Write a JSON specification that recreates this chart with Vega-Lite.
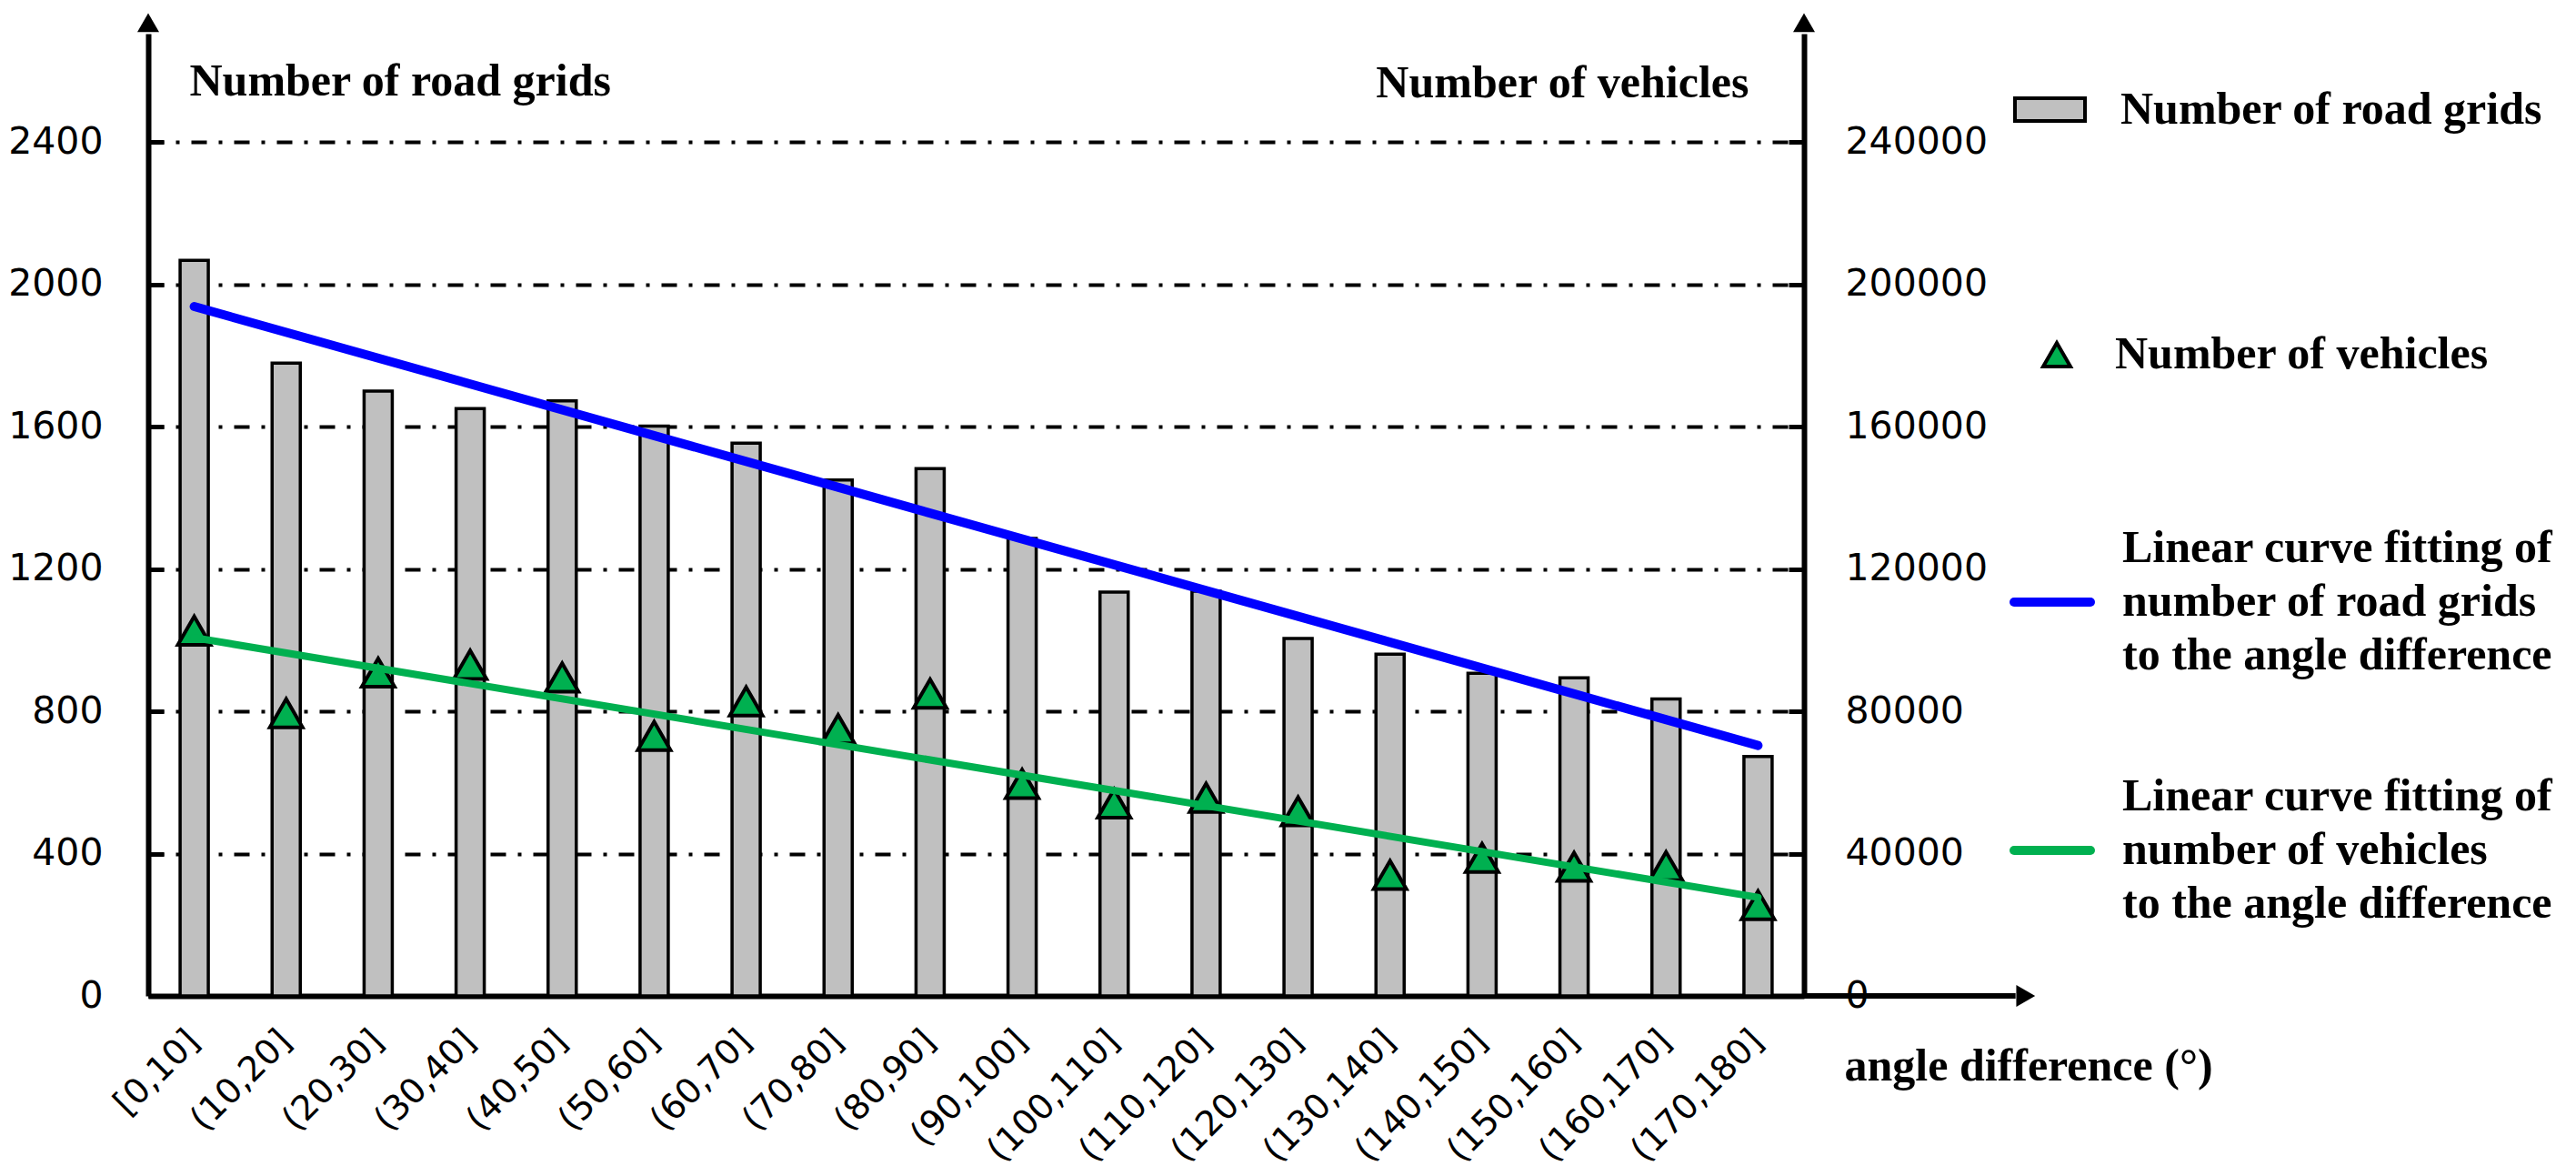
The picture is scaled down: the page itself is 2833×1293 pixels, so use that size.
{
  "$schema": "https://vega.github.io/schema/vega-lite/v6.json",
  "autosize": "none",
  "padding": {"left": 163, "top": 37, "right": 849, "bottom": 198},
  "width": 1821,
  "height": 1058,
  "background": "white",
  "datasets": {
    "bins": [
      {"interval": "[0,10]", "grids": 2068, "vehicles": 102700},
      {"interval": "(10,20]", "grids": 1779, "vehicles": 79500},
      {"interval": "(20,30]", "grids": 1700, "vehicles": 90900},
      {"interval": "(30,40]", "grids": 1651, "vehicles": 93100},
      {"interval": "(40,50]", "grids": 1673, "vehicles": 89500},
      {"interval": "(50,60]", "grids": 1602, "vehicles": 73100},
      {"interval": "(60,70]", "grids": 1554, "vehicles": 82800},
      {"interval": "(70,80]", "grids": 1450, "vehicles": 75000},
      {"interval": "(80,90]", "grids": 1482, "vehicles": 85000},
      {"interval": "(90,100]", "grids": 1286, "vehicles": 59600},
      {"interval": "(100,110]", "grids": 1135, "vehicles": 54100},
      {"interval": "(110,120]", "grids": 1138, "vehicles": 55700},
      {"interval": "(120,130]", "grids": 1005, "vehicles": 51900},
      {"interval": "(130,140]", "grids": 961, "vehicles": 34000},
      {"interval": "(140,150]", "grids": 907, "vehicles": 38800},
      {"interval": "(150,160]", "grids": 894, "vehicles": 36300},
      {"interval": "(160,170]", "grids": 835, "vehicles": 36500},
      {"interval": "(170,180]", "grids": 673, "vehicles": 25500}
    ],
    "fitGrids": [
      {"interval": "[0,10]", "grids": 1938},
      {"interval": "(170,180]", "grids": 704}
    ],
    "fitVehicles": [
      {"interval": "[0,10]", "vehicles": 100700},
      {"interval": "(170,180]", "vehicles": 27700}
    ]
  },
  "layer": [
    {
      "layer": [
        {
          "data": {"name": "bins"},
          "mark": {"type": "bar", "width": 31, "stroke": "black", "strokeWidth": 3.5},
          "encoding": {
            "x": {
              "field": "interval",
              "type": "nominal",
              "scale": {
                "domain": ["[0,10]", "(10,20]", "(20,30]", "(30,40]", "(40,50]", "(50,60]", "(60,70]", "(70,80]", "(80,90]", "(90,100]", "(100,110]", "(110,120]", "(120,130]", "(130,140]", "(140,150]", "(150,160]", "(160,170]", "(170,180]"],
                "paddingInner": 0.5,
                "paddingOuter": 0.25
              },
              "axis": {
                "labelFont": "DejaVu Sans",
                "labelFontSize": 38,
                "labelAngle": -45,
                "labelAlign": "right",
                "labelBaseline": "middle",
                "labelPadding": 44,
                "labelLimit": 400,
                "ticks": false
              },
              "title": "angle difference (°)"
            },
            "y": {
              "field": "grids",
              "type": "quantitative",
              "scale": {"domain": [0, 2705], "nice": false},
              "axis": {"values": [0, 400, 800, 1200, 1600, 2000, 2400]},
              "title": "Number of road grids"
            },
            "fill": {
              "datum": "Number of road grids",
              "scale": {"range": ["#c0c0c0"]},
              "legend": {
                "title": null,
                "orient": "none",
                "legendX": 2051,
                "legendY": 43,
                "symbolType": "M-1,-0.325H1V0.325H-1Z",
                "symbolSize": 5929,
                "symbolStrokeColor": "black",
                "symbolStrokeWidth": 4,
                "labelOffset": 37
              }
            }
          }
        },
        {
          "data": {"name": "fitGrids"},
          "mark": {"type": "line", "strokeWidth": 10, "strokeCap": "round"},
          "encoding": {
            "x": {"field": "interval", "type": "nominal", "title": "angle difference (°)"},
            "y": {
              "field": "grids",
              "type": "quantitative",
              "axis": {"values": [0, 400, 800, 1200, 1600, 2000, 2400]},
              "title": "Number of road grids"
            },
            "stroke": {
              "datum": "Linear curve fitting of|number of road grids|to the angle difference",
              "scale": {
                "domain": [
                  "Linear curve fitting of|number of road grids|to the angle difference",
                  "Linear curve fitting of|number of vehicles|to the angle difference"
                ],
                "range": ["#0000ff", "#00b050"]
              },
              "legend": {
                "title": null,
                "orient": "none",
                "legendX": 2047,
                "legendY": 578,
                "symbolType": "stroke",
                "symbolSize": 7056,
                "symbolStrokeWidth": 10,
                "labelOffset": 30,
                "rowPadding": 105,
                "labelExpr": "split(datum.label, '|')",
                "encode": {
                  "labels": {"update": {"lineHeight": {"value": 59}, "dy": {"value": -59}}},
                  "symbols": {"update": {"strokeCap": {"value": "round"}}}
                }
              }
            }
          }
        }
      ]
    },
    {
      "layer": [
        {
          "data": {"name": "bins"},
          "mark": {"type": "point", "filled": true, "stroke": "black", "strokeWidth": 4, "size": 1296, "opacity": 1, "shape": "triangle-up"},
          "encoding": {
            "x": {
              "field": "interval",
              "type": "nominal",
              "scale": {
                "domain": ["[0,10]", "(10,20]", "(20,30]", "(30,40]", "(40,50]", "(50,60]", "(60,70]", "(70,80]", "(80,90]", "(90,100]", "(100,110]", "(110,120]", "(120,130]", "(130,140]", "(140,150]", "(150,160]", "(160,170]", "(170,180]"],
                "paddingInner": 0.5,
                "paddingOuter": 0.25
              },
              "axis": null
            },
            "y": {
              "field": "vehicles",
              "type": "quantitative",
              "scale": {"domain": [0, 270500], "nice": false},
              "axis": {"orient": "right", "values": [0, 40000, 80000, 120000, 160000, 200000, 240000]},
              "title": "Number of vehicles"
            },
            "color": {
              "datum": "Number of vehicles",
              "scale": {"range": ["#00b050"]},
              "legend": {
                "title": null,
                "orient": "none",
                "legendX": 2074,
                "legendY": 328,
                "symbolType": "triangle-up",
                "symbolSize": 900,
                "symbolStrokeWidth": 4,
                "labelOffset": 39
              }
            }
          }
        },
        {
          "data": {"name": "fitVehicles"},
          "mark": {"type": "line", "strokeWidth": 8, "strokeCap": "round"},
          "encoding": {
            "x": {"field": "interval", "type": "nominal", "axis": null},
            "y": {
              "field": "vehicles",
              "type": "quantitative",
              "axis": {"orient": "right", "values": [0, 40000, 80000, 120000, 160000, 200000, 240000]},
              "title": "Number of vehicles"
            },
            "stroke": {"datum": "Linear curve fitting of|number of vehicles|to the angle difference"}
          }
        }
      ]
    },
    {
      "data": {"values": [{}]},
      "layer": [
        {
          "mark": {"type": "point", "shape": "triangle-up", "filled": true, "color": "black", "size": 576, "opacity": 1},
          "encoding": {
            "x": {"datum": 0, "type": "quantitative", "scale": {"domain": [0, 18], "nice": false, "zero": false}, "axis": null},
            "y": {"datum": 2736, "type": "quantitative", "scale": {"domain": [0, 2705], "nice": false}, "axis": null}
          }
        },
        {
          "mark": {"type": "point", "shape": "triangle-up", "filled": true, "color": "black", "size": 576, "opacity": 1},
          "encoding": {
            "x": {"datum": 18, "type": "quantitative", "axis": null},
            "y": {"datum": 2736, "type": "quantitative", "axis": null}
          }
        },
        {
          "mark": {"type": "rule", "color": "black", "strokeWidth": 6},
          "encoding": {
            "x": {"datum": 18, "type": "quantitative", "axis": null},
            "x2": {"datum": 20.3},
            "y": {"datum": 0, "type": "quantitative", "axis": null}
          }
        },
        {
          "mark": {"type": "point", "shape": "triangle-right", "filled": true, "color": "black", "size": 576, "opacity": 1},
          "encoding": {
            "x": {"datum": 20.41, "type": "quantitative", "axis": null},
            "y": {"datum": 0, "type": "quantitative", "axis": null}
          }
        }
      ]
    }
  ],
  "resolve": {"scale": {"x": "independent", "y": "independent"}},
  "config": {
    "view": {"stroke": null},
    "font": "Liberation Serif",
    "axis": {
      "labelColor": "black",
      "labelFont": "DejaVu Sans",
      "labelFontSize": 41,
      "titleColor": "black",
      "titleFont": "Liberation Serif",
      "titleFontWeight": "bold",
      "titleFontSize": 50,
      "domainColor": "black",
      "domainWidth": 6,
      "tickColor": "black"
    },
    "axisLeft": {
      "grid": true,
      "gridColor": "black",
      "gridWidth": 4,
      "gridOpacity": 1,
      "gridDash": [17, 13, 4, 13],
      "tickSize": -17,
      "tickWidth": 5,
      "labelPadding": 67,
      "format": "d",
      "titleAngle": 0,
      "titleX": 45,
      "titleY": 67,
      "titleAlign": "left",
      "titleBaseline": "alphabetic"
    },
    "axisRight": {
      "grid": false,
      "tickSize": -17,
      "tickWidth": 5,
      "labelPadding": 62,
      "format": "d",
      "titleAngle": 0,
      "titleX": -61,
      "titleY": 69,
      "titleAlign": "right",
      "titleBaseline": "alphabetic"
    },
    "axisBottom": {
      "grid": false,
      "ticks": false,
      "titleX": 1865,
      "titleY": 92,
      "titleAlign": "left",
      "titleBaseline": "alphabetic"
    },
    "legend": {
      "labelFont": "Liberation Serif",
      "labelFontWeight": "bold",
      "labelFontSize": 50,
      "labelColor": "black",
      "labelLimit": 1000
    }
  }
}
